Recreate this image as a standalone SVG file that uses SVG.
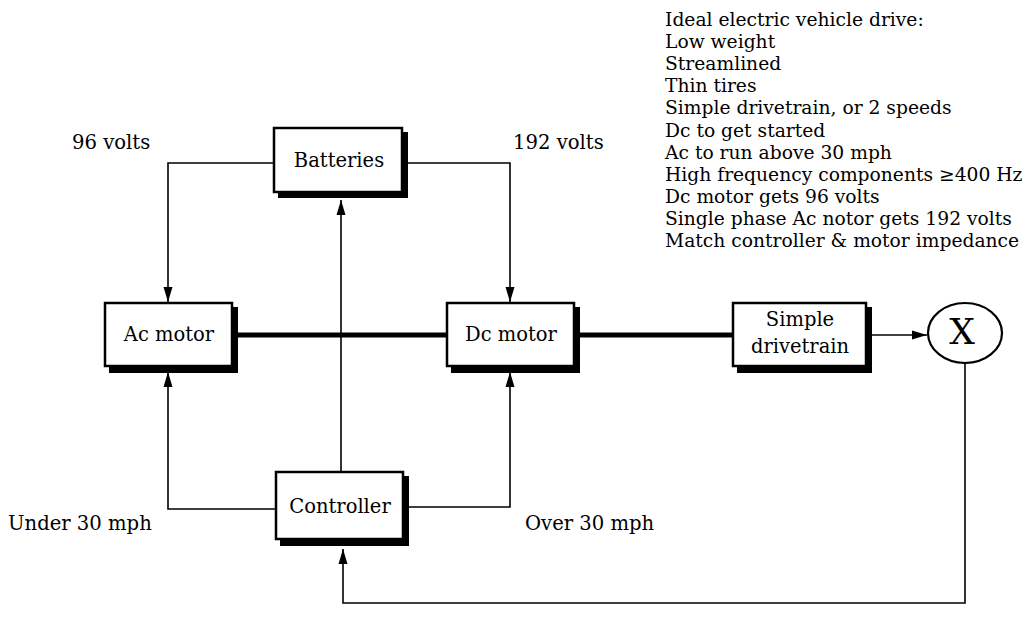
<svg xmlns="http://www.w3.org/2000/svg" width="1028" height="634" viewBox="0 0 1028 634">
<style>
.box{fill:#fff;stroke:#000;stroke-width:2.5}
.shadow{fill:#000}
.t{font-family:"DejaVu Serif","Liberation Serif",serif;font-size:18.7px;fill:#000}
.l{font-family:"DejaVu Serif","Liberation Serif",serif;font-size:19.6px;fill:#000}
.lbl{font-family:"DejaVu Serif","Liberation Serif",serif;font-size:19.5px;fill:#000;text-anchor:middle}
.thin{fill:none;stroke:#000;stroke-width:1.6}
.thick{fill:none;stroke:#000;stroke-width:5}
</style>
<defs>
<marker id="arr" markerUnits="userSpaceOnUse" markerWidth="16" markerHeight="10" refX="15" refY="5" orient="auto">
<path d="M0,0.5 L15,5 L0,9.5 Z" fill="#000"/>
</marker>
</defs>
<rect width="1028" height="634" fill="#fff"/>
<g id="connectors">
<polyline class="thin" points="274,163 168,163 168,302" marker-end="url(#arr)"/>
<polyline class="thin" points="403,163 510,163 510,302" marker-end="url(#arr)"/>
<line class="thin" x1="341" y1="472" x2="341" y2="200" marker-end="url(#arr)"/>
<polyline class="thin" points="276,509 168,509 168,372" marker-end="url(#arr)"/>
<polyline class="thin" points="405,507 510,507 510,372" marker-end="url(#arr)"/>
<line class="thick" x1="236" y1="335" x2="447" y2="335"/>
<line class="thick" x1="580" y1="335" x2="733" y2="335"/>
<line class="thin" x1="870" y1="335" x2="927" y2="335" marker-end="url(#arr)"/>
<polyline class="thin" points="965,363 965,603 343,603 343,549" marker-end="url(#arr)"/>
</g>
<g id="batteries">
<rect class="shadow" x="278" y="132" width="130" height="66"/>
<rect class="box" x="274" y="128" width="128" height="64"/>
<text class="lbl" x="339" y="167">Batteries</text>
</g>
<g id="ac-motor">
<rect class="shadow" x="109" y="307" width="129" height="66"/>
<rect class="box" x="105" y="303" width="127" height="63"/>
<text class="lbl" x="169" y="341">Ac motor</text>
</g>
<g id="dc-motor">
<rect class="shadow" x="451" y="307" width="129" height="66"/>
<rect class="box" x="447" y="303" width="127" height="63"/>
<text class="lbl" x="511" y="341">Dc motor</text>
</g>
<g id="drivetrain">
<rect class="shadow" x="737" y="307" width="135" height="66"/>
<rect class="box" x="733" y="303" width="133" height="63"/>
<text class="lbl" x="800" y="326">Simple</text>
<text class="lbl" x="800" y="353">drivetrain</text>
</g>
<g id="x-node">
<ellipse cx="965" cy="333" rx="37" ry="30" fill="#fff" stroke="#000" stroke-width="2.2"/>
<text x="962" y="344" font-family="DejaVu Serif,serif" font-size="36" text-anchor="middle">X</text>
</g>
<g id="controller">
<rect class="shadow" x="280" y="476" width="129" height="70"/>
<rect class="box" x="276" y="472" width="127" height="67"/>
<text class="lbl" x="340" y="513">Controller</text>
</g>
<g id="labels">
<text class="l" x="72" y="149">96 volts</text>
<text class="l" x="513" y="149">192 volts</text>
<text class="l" x="8" y="530">Under 30 mph</text>
<text class="l" x="525" y="530">Over 30 mph</text>
</g>
<g id="notes">
<text class="t" x="665" y="26">Ideal electric vehicle drive:</text>
<text class="t" x="665" y="48">Low weight</text>
<text class="t" x="665" y="70">Streamlined</text>
<text class="t" x="665" y="92">Thin tires</text>
<text class="t" x="665" y="114">Simple drivetrain, or 2 speeds</text>
<text class="t" x="665" y="137">Dc to get started</text>
<text class="t" x="665" y="159">Ac to run above 30 mph</text>
<text class="t" x="665" y="181">High frequency components ≥400 Hz</text>
<text class="t" x="665" y="203">Dc motor gets 96 volts</text>
<text class="t" x="665" y="225">Single phase Ac notor gets 192 volts</text>
<text class="t" x="665" y="247">Match controller &amp; motor impedance</text>
</g>
</svg>
